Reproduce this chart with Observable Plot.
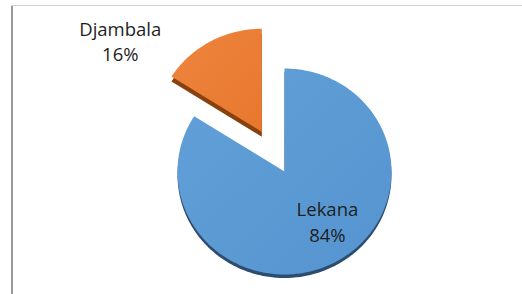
<!DOCTYPE html>
<html>
<head>
<meta charset="utf-8">
<script src="https://cdn.jsdelivr.net/npm/d3@7"></script>
<script src="https://cdn.jsdelivr.net/npm/@observablehq/plot@0.6"></script>
<style>
  html, body { margin: 0; padding: 0; background: #fff; }
  #wrap { position: relative; width: 522px; height: 294px; overflow: hidden; }
  #wrap svg { position: absolute; left: 0; top: 0; }
  .vline { position: absolute; left: 11px; top: 5px; width: 2px; height: 289px; background: #9a9a9a; }
  .hline { position: absolute; left: 11px; top: 5px; width: 511px; height: 1px; background: #d4d4d4; }
</style>
</head>
<body>
<div id="wrap"><div class="vline"></div><div class="hline"></div></div>
<script>
const categories = ["Lekana", "Djambala"];
const values = [84, 16];
const percentLabels = ["84%", "16%"];
const sliceColors = ["#5b9bd5", "#ed7d31"];
const sideColors = ["#2c4d70", "#87420f"];
const explodeBy = [0, 0.44];

const total = d3.sum(values);
let acc = 0;
const slices = categories.map((name, i) => {
  const a0 = acc / total * 2 * Math.PI;
  acc += values[i];
  const a1 = acc / total * 2 * Math.PI;
  const mid = (a0 + a1) / 2;
  const ox = explodeBy[i] * Math.sin(mid);
  const oy = explodeBy[i] * Math.cos(mid);
  const pts = [{key: name, x: ox, y: oy}];
  const n = Math.max(2, Math.ceil((a1 - a0) / (Math.PI / 180)));
  for (let k = 0; k <= n; k++) {
    const a = a0 + (a1 - a0) * k / n;
    pts.push({key: name, x: ox + Math.sin(a), y: oy + Math.cos(a)});
  }
  pts.push({key: name, x: ox, y: oy});
  return {name, i, a0, a1, mid, ox, oy, pts};
});

const marks = [];
for (const s of slices) {
  marks.push(Plot.line(s.pts, {x: "x", y: "y", z: "key", fill: sideColors[s.i], stroke: "none", dy: s.i === 0 ? 3.5 : 5, curve: "linear"}));
}
for (const s of slices) {
  marks.push(Plot.line(s.pts, {x: "x", y: "y", z: "key", fill: `url(#grad${s.i})`, stroke: "none", curve: "linear"}));
}

// labels
const labelData = [
  {text: categories[0] + "\n" + percentLabels[0], x: 0.6 * Math.sin(slices[0].mid), y: 0.6 * Math.cos(slices[0].mid), dx: 12, dy: -5},
  {text: categories[1] + "\n" + percentLabels[1], x: (1 + explodeBy[1]) * Math.sin(slices[1].mid), y: (1 + explodeBy[1]) * Math.cos(slices[1].mid), dx: -90, dy: -1}
];
for (const l of labelData) {
  marks.push(Plot.text([l], {x: "x", y: "y", text: "text", dx: l.dx, dy: l.dy, fill: "#1e1e1e", fontSize: 18.5, lineHeight: 1.38, textAnchor: "middle", lineAnchor: "middle"}));
}

const chart = Plot.plot({
  width: 522,
  height: 294,
  margin: 0,
  style: {fontFamily: "'Open Sans', sans-serif", background: "transparent"},
  x: {domain: [-1, 1], range: [177, 391], axis: null},
  y: {domain: [-1, 1], range: [274, 68], axis: null},
  marks
});

const ns = "http://www.w3.org/2000/svg";
const defs = document.createElementNS(ns, "defs");
defs.innerHTML = `
<linearGradient id="grad0" x1="0" y1="0" x2="1" y2="1">
  <stop offset="0" stop-color="#62a0d8"/>
  <stop offset="1" stop-color="#5594cf"/>
</linearGradient>
<linearGradient id="grad1" x1="0" y1="0" x2="1" y2="1">
  <stop offset="0" stop-color="#ee8540"/>
  <stop offset="1" stop-color="#e8772c"/>
</linearGradient>`;
chart.insertBefore(defs, chart.firstChild);
document.getElementById("wrap").appendChild(chart);
</script>
</body>
</html>
